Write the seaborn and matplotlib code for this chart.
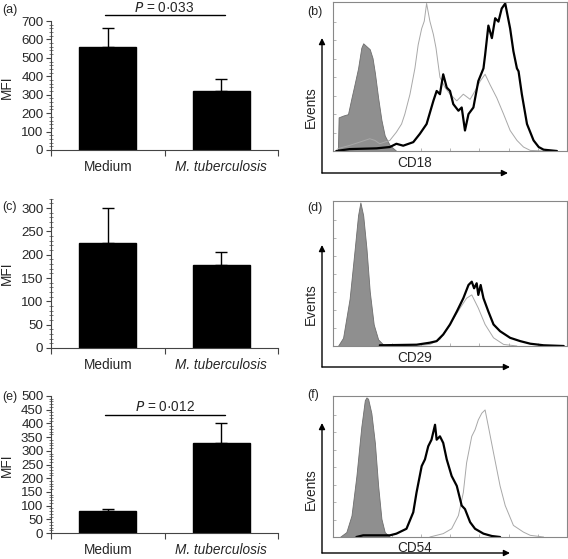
import matplotlib
matplotlib.use("Agg")
import matplotlib.pyplot as plt
from matplotlib.patches import FancyArrowPatch
from matplotlib.ticker import MultipleLocator
import seaborn as sns

W, H = 568, 559

# barras (MFI)
categorias = ["Medium", "M. tuberculosis"]
mfi_cd18 = [560, 320]
erro_cd18 = [100, 65]
mfi_cd29 = [225, 177]
erro_cd29 = [75, 28]
mfi_cd54 = [80, 330]
erro_cd54 = [8, 70]
p_cd18 = "0·033"
p_cd54 = "0·012"

# histogramas (canal relativo 0-100, eventos relativos 0-100)
# CD18
x_iso_cd18 = [2.1, 2.4, 4.3, 6.4, 7.9, 8.9, 10.7, 12.1, 12.9, 14.3, 15.7, 16.9, 17.9, 19.3, 20.7, 22.1, 24.3, 27.1]
y_iso_cd18 = [0, 22.8, 24, 25, 36, 43, 56, 70, 73, 71, 69, 63, 53, 36, 21, 10.5, 3.8, 0]
x_mtb_cd18 = [2.1, 7.1, 11.4, 15.7, 17.9, 20, 24.3, 27.1, 29.3, 30.7, 32.9, 35, 36.4, 37.9, 39, 40, 41.4, 42.9,
              44, 45.7, 47.9, 50, 52.9, 55.7, 58.6, 60.7, 62.9, 65, 67.1, 70, 72.9, 75.7, 78.6, 81.4, 84.3, 90]
y_mtb_cd18 = [1.6, 3.8, 6, 8.3, 7.2, 4.9, 7.2, 12.8, 18.3, 25, 38.5, 56, 72, 83, 88, 100, 88, 79,
              70, 50, 43, 38.5, 34, 38.5, 35, 40.7, 47.4, 52, 45, 36, 25, 13.9, 7.2, 2.7, 0.4, 0]
x_med_cd18 = [1.4, 7.1, 18.6, 24.3, 27.1, 30, 34.3, 37.1, 40, 42.9, 44.3, 45.7, 47.1, 48.6, 50, 51.4, 53.6, 55,
              56.4, 57.9, 60, 62.1, 64.3, 65, 66.4, 67.9, 69.3, 70.7, 72.1, 73.6, 75.7, 77.1, 78.6, 79.3, 80.7,
              82.9, 85.7, 87.9, 90, 95.7]
y_med_cd18 = [0, 1.3, 1.8, 2.7, 4.9, 3.6, 6, 11.6, 18.3, 34, 40.7, 38.5, 52, 43, 40.7, 31.8, 27.3, 29.5,
              13.9, 25, 29.5, 47.4, 56, 65, 85, 76.5, 90, 87.7, 96.6, 100, 83, 67.6, 56, 54, 38.5,
              18.3, 7.2, 2.7, 0.9, 0]

# CD29
x_iso_cd29 = [2.1, 4.3, 7.1, 9.3, 10.7, 11.7, 12.9, 14.3, 15.7, 17.4, 19.3, 21.4, 24.3]
y_iso_cd29 = [0, 5.7, 33, 68, 91, 100, 91, 68, 38, 15, 4.6, 1.1, 0]
x_mtb_cd29 = [20, 38.6, 41.4, 45.7, 50, 54.3, 57.1, 59.3, 62.1, 65, 68.6, 72.9, 78.6]
y_mtb_cd29 = [0.2, 0.7, 1.1, 4.6, 15, 26.4, 33.3, 35.6, 26.4, 15, 5.7, 1.1, 0]
x_med_cd29 = [20, 35.7, 41.4, 44.3, 47.1, 50, 52.9, 55.7, 57.9, 59.3, 60.3, 61.4, 62.1, 63.1, 64.3, 66.4,
              68.6, 71.4, 75.7, 80, 84.3, 90, 98.6]
y_med_cd29 = [0.5, 0.9, 2.3, 3.4, 8, 15, 24, 33.3, 42.5, 44.8, 40.2, 43.7, 35.6, 42.5, 33.3, 24,
              15, 10.3, 5.7, 3.4, 1.6, 0.5, 0]

# CD54
x_iso_cd54 = [2.9, 5.7, 7.9, 10, 12.1, 13.6, 14.3, 15, 16.4, 17.9, 19.3, 20.7, 22.1, 24.3]
y_iso_cd54 = [0, 3.5, 15.4, 43.7, 79, 98, 100, 99, 88.7, 67.4, 36.6, 13, 3.5, 0]
x_med_cd54 = [10, 12.9, 24.3, 27.1, 31.4, 34.3, 35.7, 37.9, 39.3, 40.7, 42.1, 43.6, 44.3, 45.7, 47.1, 48.6,
              50.7, 52.9, 55, 56.4, 58.6, 60.7, 64.3, 67.9, 71.4]
y_med_cd54 = [0, 1.2, 1.2, 2.4, 5.9, 17.7, 31.9, 50.8, 55.6, 65, 69.7, 80.4, 69.7, 72.1, 67.4, 55.6,
              43.7, 36.6, 22.5, 20, 10.6, 5.9, 2.4, 0.7, 0]
x_mtb_cd54 = [41.4, 47.1, 50.7, 53.6, 55.7, 57.1, 59.3, 60.7, 62.1, 63.6, 65, 66.4, 68.6, 71.4, 73.6, 77.1,
              81.4, 84.3, 90]
y_mtb_cd54 = [0, 2.4, 5.9, 15.4, 31.9, 53.2, 72.1, 76.8, 83.9, 88.7, 91, 79.2, 60.3, 36.6, 22.5, 8.3,
              3.5, 1.2, 0]

sns.set_style("ticks")
plt.rcParams['font.family'] = ['Liberation Sans', 'DejaVu Sans']
plt.rcParams['font.size'] = 9.5


def rect(l, t, r, b):
    return [l / W, 1 - b / H, (r - l) / W, (b - t) / H]


def fpos(px, py):
    return (px / W, 1 - py / H)


fig = plt.figure(figsize=(W / 100, H / 100), dpi=100)


def grafico_barras(caixa, vals, errs, ymax, major, minor, letra, letra_y, mfi_y, pval=None, linha_y=None, texto_y=None):
    ax = fig.add_axes(rect(*caixa))
    sns.barplot(x=categorias, y=vals, color='black', saturation=1, width=0.5,
                edgecolor='black', ax=ax)
    ax.errorbar([0, 1], vals, yerr=[[0, 0], errs], fmt='none', ecolor='black',
                elinewidth=1, capsize=4, capthick=1)
    ax.set_xlim(-0.5, 1.5)
    ax.set_ylim(0, ymax)
    ax.yaxis.set_major_locator(MultipleLocator(major))
    ax.yaxis.set_minor_locator(MultipleLocator(minor))
    ax.set_xticks([0, 1])
    ax.set_xticklabels(categorias)
    ax.get_xticklabels()[1].set_style('italic')
    ax.set_xticks([-0.5, 0.5, 1.5], minor=True)
    ax.tick_params(axis='x', which='major', length=0, pad=7, labelsize=9.8)
    ax.tick_params(axis='x', which='minor', length=4, width=0.8, color='#444')
    ax.tick_params(axis='y', which='major', length=3.5, width=0.8, pad=2, labelsize=9.6, color='#444')
    ax.tick_params(axis='y', which='minor', length=2.5, width=0.6, direction='inout', color='#666')
    for s in ['top', 'right']:
        ax.spines[s].set_visible(False)
    for s in ['left', 'bottom']:
        ax.spines[s].set_color('#444')
        ax.spines[s].set_linewidth(0.8)
    ax.set_xlabel('')
    ax.set_ylabel('')
    fig.text(*fpos(7, mfi_y), 'MFI', rotation=90, ha='center', va='center', fontsize=9.8)
    fig.text(*fpos(2, letra_y), letra, ha='left', va='center', fontsize=9)
    if pval is not None:
        ax.plot([-0.02, 1.03], [linha_y, linha_y], color='black', lw=1, clip_on=False)
        ax.text(0.5, texto_y, r'$\it{P}$' + ' = ' + pval, ha='center', va='center',
                fontsize=9.8, clip_on=False)
    return ax


def histograma(caixa, iso, med, mtb, rotulo, letra, letra_y, seta_base, seta_topo, seta_dir, ev_y, rot_y):
    ax = fig.add_axes(rect(*caixa))
    ax.fill_between(iso[0], iso[1], color='#8f8f8f', edgecolor='#6e6e6e', lw=0.6)
    sns.lineplot(x=mtb[0], y=mtb[1], color='#a8a8a8', lw=0.7, ax=ax)
    sns.lineplot(x=med[0], y=med[1], color='black', lw=1.6, ax=ax)
    ax.set_xlim(0, 100)
    ax.set_ylim(0, 101)
    ax.set_xticks([12.5 * i for i in range(1, 8)])
    ax.set_yticks([12.5 * i for i in range(1, 8)])
    ax.tick_params(direction='in', length=2, width=0.6, color='#aaa', labelbottom=False, labelleft=False)
    for s in ax.spines.values():
        s.set_color('#888')
        s.set_linewidth(0.8)
    ax.set_xlabel('')
    ax.set_ylabel('')
    canto = fpos(322, seta_base)
    fig.add_artist(FancyArrowPatch(canto, fpos(322, seta_topo), transform=fig.transFigure,
                                   arrowstyle='-|>', mutation_scale=9, lw=1, color='black',
                                   shrinkA=0, shrinkB=0))
    fig.add_artist(FancyArrowPatch(canto, fpos(seta_dir, seta_base), transform=fig.transFigure,
                                   arrowstyle='-|>', mutation_scale=9, lw=1, color='black',
                                   shrinkA=0, shrinkB=0))
    fig.text(*fpos(311, ev_y), 'Events', rotation=90, ha='center', va='center', fontsize=9.8)
    fig.text(*fpos(415, rot_y), rotulo, ha='center', va='center', fontsize=9.8)
    fig.text(*fpos(307, letra_y), letra, ha='left', va='center', fontsize=9)
    return ax


grafico_barras((51, 21, 278, 150), mfi_cd18, erro_cd18, 700, 100, 20, '(a)', 10, 87,
               pval=p_cd18, linha_y=732, texto_y=772)
grafico_barras((51, 198.7, 278, 348), mfi_cd29, erro_cd29, 320, 50, 10, '(c)', 207, 273)
grafico_barras((51, 396, 278, 533), mfi_cd54, erro_cd54, 500, 50, 10, '(e)', 397, 465,
               pval=p_cd54, linha_y=430, texto_y=460)

histograma((333, 2, 567, 151), (x_iso_cd18, y_iso_cd18), (x_med_cd18, y_med_cd18),
           (x_mtb_cd18, y_mtb_cd18), 'CD18', '(b)', 12, 173, 38, 508, 107, 163)
histograma((333, 201, 567, 346), (x_iso_cd29, y_iso_cd29), (x_med_cd29, y_med_cd29),
           (x_mtb_cd29, y_mtb_cd29), 'CD29', '(d)', 208, 367, 245, 510, 304, 358)
histograma((333, 396, 567, 537), (x_iso_cd54, y_iso_cd54), (x_med_cd54, y_med_cd54),
           (x_mtb_cd54, y_mtb_cd54), 'CD54', '(f)', 395, 553, 423, 510, 489, 548)

plt.savefig('out.png', dpi=100)
plt.close()
